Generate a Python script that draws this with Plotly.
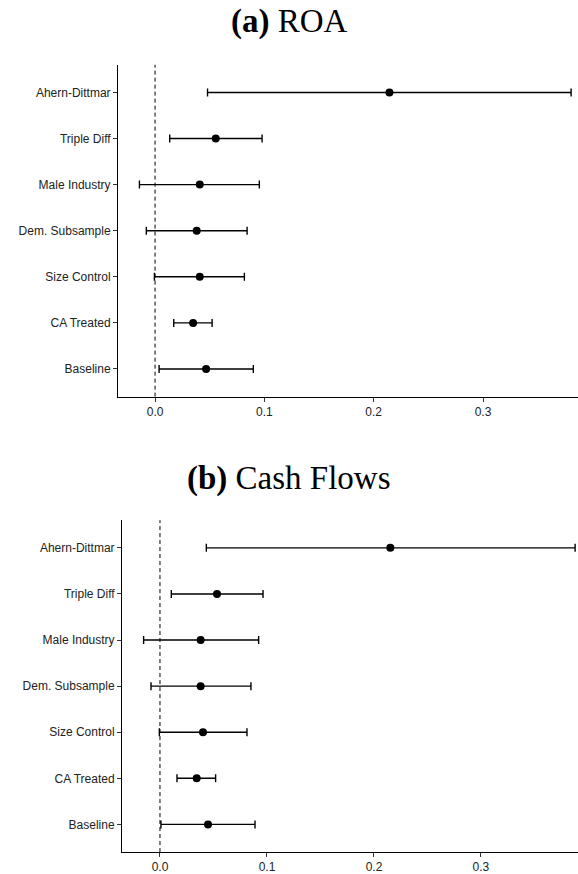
import plotly.graph_objects as go

categories = ["Baseline", "CA Treated", "Size Control", "Dem. Subsample",
              "Male Industry", "Triple Diff", "Ahern-Dittmar"]

roa_est = [0.0467, 0.0348, 0.0409, 0.0381, 0.0409, 0.0555, 0.2144]
roa_lo = [0.0037, 0.0171, -0.0006, -0.0080, -0.0143, 0.0134, 0.0480]
roa_hi = [0.0899, 0.0522, 0.0817, 0.0842, 0.0954, 0.0979, 0.3806]

cf_est = [0.0449, 0.0343, 0.0402, 0.0380, 0.0380, 0.0533, 0.2153]
cf_lo = [0.0009, 0.0159, -0.0006, -0.0084, -0.0153, 0.0106, 0.0433]
cf_hi = [0.0888, 0.0520, 0.0813, 0.0850, 0.0922, 0.0963, 0.3880]

x_ticks = [0.0, 0.1, 0.2, 0.3]
x_tick_labels = ["0.0", "0.1", "0.2", "0.3"]
ZERO = 0.0

W, H = 578, 874

fig = go.Figure()


def add_panel(est, lo, hi, xa, ya):
    fig.add_trace(go.Scatter(
        x=est, y=categories, mode="markers",
        marker=dict(color="black", size=8),
        error_x=dict(type="data", symmetric=False,
                     array=[h - e for h, e in zip(hi, est)],
                     arrayminus=[e - l for e, l in zip(est, lo)],
                     color="black", thickness=1.4, width=4),
        xaxis=xa, yaxis=ya, showlegend=False, hoverinfo="skip",
    ))
    fig.add_shape(type="line", x0=ZERO, x1=ZERO, y0=0, y1=1,
                  xref=xa, yref=f"{ya} domain",
                  line=dict(color="black", width=1, dash="4px,3px"))


add_panel(roa_est, roa_lo, roa_hi, "x", "y")
add_panel(cf_est, cf_lo, cf_hi, "x2", "y2")

tickfont = dict(family="Liberation Sans, Arial, sans-serif", size=12, color="#222")

common_x = dict(showgrid=False, zeroline=False, showline=True, linecolor="black",
                linewidth=1, ticks="outside", ticklen=4, tickcolor="#333",
                tickvals=x_ticks, ticktext=x_tick_labels, tickfont=tickfont)
common_y = dict(showgrid=False, zeroline=False, showline=True, linecolor="black",
                linewidth=1, ticks="outside", ticklen=4, tickcolor="#333",
                type="category", categoryorder="array", categoryarray=categories,
                range=[-0.6, 6.6], tickfont=tickfont)

title_font = dict(family="Liberation Serif, DejaVu Serif, serif", size=33, color="black")

fig.update_layout(
    width=W, height=H,
    margin=dict(l=0, r=0, t=0, b=0),
    plot_bgcolor="white", paper_bgcolor="white",
    xaxis=dict(common_x, domain=[118 / W, 1], range=[-0.0339, 0.3869], anchor="y"),
    yaxis=dict(common_y, domain=[1 - 398 / H, 1 - 65 / H], anchor="x"),
    xaxis2=dict(common_x, domain=[122 / W, 1], range=[-0.0355, 0.3907], anchor="y2"),
    yaxis2=dict(common_y, domain=[1 - 855 / H, 1 - 522 / H], anchor="x2"),
    annotations=[
        dict(text="<b>(a)</b> ROA", x=0.5, y=1 - 22 / H, xref="paper", yref="paper",
             showarrow=False, xanchor="center", yanchor="middle", font=title_font),
        dict(text="<b>(b)</b> Cash Flows", x=0.5, y=1 - 480 / H, xref="paper", yref="paper",
             showarrow=False, xanchor="center", yanchor="middle", font=title_font),
    ],
)

fig.write_html("out.html", config={"displayModeBar": False},
               post_script="document.body.style.margin='0';document.body.style.padding='0';document.body.style.overflow='hidden';")
